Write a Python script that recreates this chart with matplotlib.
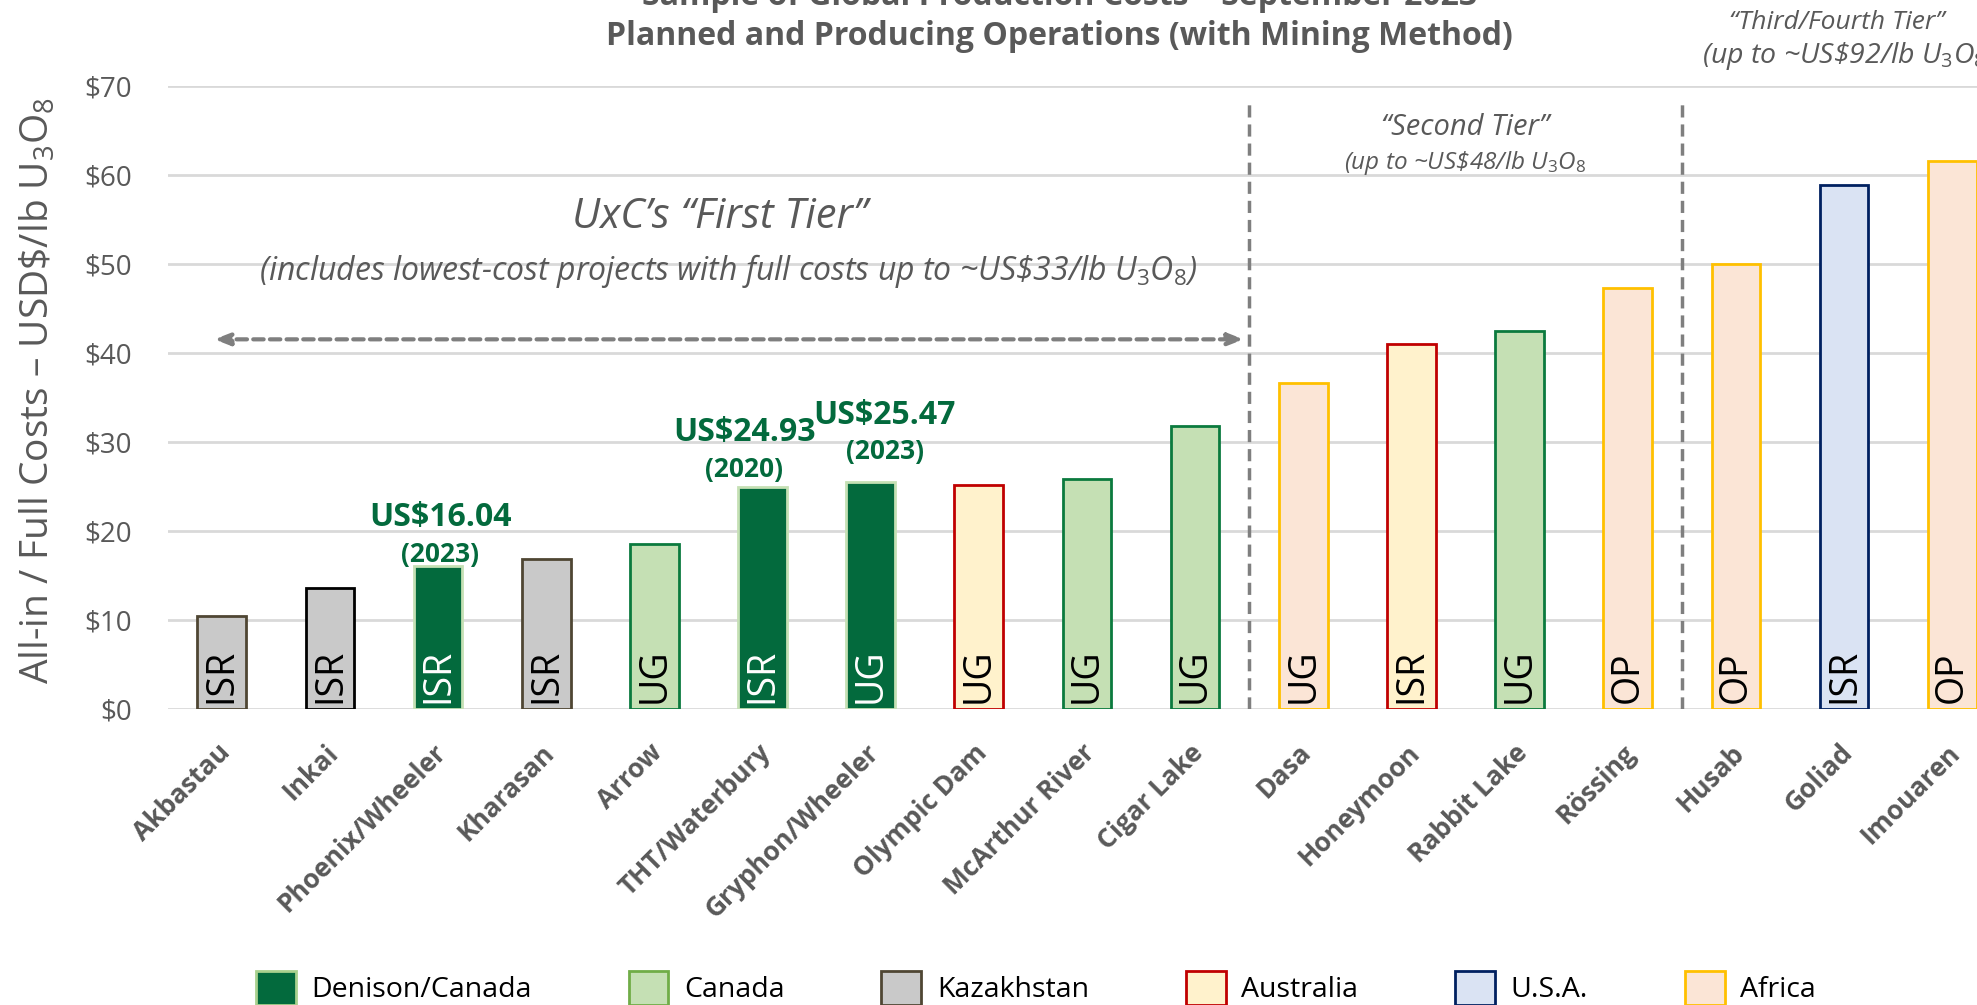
import matplotlib
matplotlib.use("Agg")
import matplotlib.pyplot as plt
from matplotlib.patches import Patch

plt.rcParams['font.family'] = ['Open Sans', 'DejaVu Sans']
plt.rcParams['mathtext.fontset'] = 'custom'
plt.rcParams['mathtext.rm'] = 'Open Sans'
plt.rcParams['mathtext.it'] = 'Open Sans:italic'
plt.rcParams['mathtext.bf'] = 'Open Sans:bold'

# data
projects = ['Akbastau', 'Inkai', 'Phoenix/Wheeler', 'Kharasan', 'Arrow', 'THT/Waterbury',
            'Gryphon/Wheeler', 'Olympic Dam', 'McArthur River', 'Cigar Lake', 'Dasa',
            'Honeymoon', 'Rabbit Lake', 'Rössing', 'Husab', 'Goliad', 'Imouaren']
costs = [10.4, 13.6, 16.04, 16.8, 18.5, 24.93, 25.47, 25.1, 25.8, 31.8,
         36.6, 41.0, 42.4, 47.3, 50.0, 58.9, 61.5]
region = ['Kazakhstan', 'Kazakhstan', 'Denison/Canada', 'Kazakhstan', 'Canada', 'Denison/Canada',
          'Denison/Canada', 'Australia', 'Canada', 'Canada', 'Africa',
          'Australia', 'Canada', 'Africa', 'Africa', 'U.S.A.', 'Africa']
method = ['ISR', 'ISR', 'ISR', 'ISR', 'UG', 'ISR', 'UG', 'UG', 'UG', 'UG',
          'UG', 'ISR', 'UG', 'OP', 'OP', 'ISR', 'OP']
yticks = [0, 10, 20, 30, 40, 50, 60, 70]

regions = ['Denison/Canada', 'Canada', 'Kazakhstan', 'Australia', 'U.S.A.', 'Africa']
fills = {'Denison/Canada': '#036A3D', 'Canada': '#C5E0B4', 'Kazakhstan': '#C9C9C9',
         'Australia': '#FFF2CC', 'U.S.A.': '#DAE3F3', 'Africa': '#FBE5D6'}
edges = {'Denison/Canada': '#C5E0B4', 'Canada': '#0B7A3E', 'Kazakhstan': '#4F4633',
         'Australia': '#C00000', 'U.S.A.': '#002060', 'Africa': '#FFC000'}
leg_edges = {'Denison/Canada': '#A9D18E', 'Canada': '#70AD47', 'Kazakhstan': '#4F4633',
             'Australia': '#C00000', 'U.S.A.': '#002060', 'Africa': '#FFC000'}

gray = '#595959'
green = '#036A3D'
dash = '#7F7F7F'
u3o8 = r'U$_\mathit{3}$O$_\mathit{8}$'

fig = plt.figure(figsize=(19.77, 10.05), dpi=100)
ax = fig.add_axes([0.0848, 0.2949, 0.930, 0.6198])

x = list(range(len(projects)))
bar_edges = [edges[r] for r in region]
bar_edges[1] = '#000000'  # Inkai has a black outline
bars = ax.bar(x, costs, width=0.45, color=[fills[r] for r in region],
              edgecolor=bar_edges, linewidth=2, zorder=3)

for i, m in enumerate(method):
    c = 'white' if region[i] == 'Denison/Canada' else 'black'
    ax.text(i, 0.6, m, rotation=90, ha='center', va='bottom', fontsize=27,
            color=c, zorder=4)

ax.set_xlim(-0.5, len(projects) - 0.5)
ax.set_ylim(0, 70)
ax.set_yticks(yticks)
ax.set_yticklabels(['$%d' % v for v in yticks], fontsize=20, color=gray)
ax.tick_params(axis='y', length=0, pad=26)
ax.set_xticks([])
ax.grid(axis='y', color='#D9D9D9', linewidth=2, zorder=0)
ax.set_axisbelow(True)
for s in ax.spines.values():
    s.set_visible(False)

for i, name in enumerate(projects):
    ax.text(i - 0.05, -3.4, name, rotation=45, ha='right', va='top',
            rotation_mode='anchor', fontsize=19, fontweight='bold', color=gray,
            clip_on=False)

ax.set_ylabel(r'All-in / Full Costs – USD\$/lb ' + r'U$_3$O$_8$', fontsize=28, color=gray)
ax.yaxis.set_label_coords(-0.06, 0.51)

# tier separators
for xv in [9.5, 13.5]:
    ax.plot([xv, xv], [0, 68.6], color=dash, linestyle=(0, (3.5, 2)), linewidth=2.5, zorder=2)

ax.annotate('', xy=(9.45, 41.5), xytext=(-0.07, 41.5),
            arrowprops=dict(arrowstyle='<|-|>,head_length=0.9,head_width=0.35',
                            linestyle=(0, (2.5, 1.5)), color=dash, lw=3, shrinkA=0, shrinkB=0))

ax.text(4.6, 55.3, 'UxC’s “First Tier”', style='italic', fontsize=30, color=gray,
        ha='center', va='center')
ax.text(4.68, 49.2, r'(includes lowest-cost projects with full costs up to ~US\$33/lb ' + u3o8 + ')',
        style='italic', fontsize=23, color=gray, ha='center', va='center')
ax.text(11.5, 65.3, '“Second Tier”', style='italic', fontsize=21, color=gray,
        ha='center', va='center')
ax.text(11.5, 61.3, r'(up to ~US\$48/lb ' + u3o8,
        style='italic', fontsize=17.5, color=gray, ha='center', va='center')
ax.text(14.93, 77.1, '“Third/Fourth Tier”', style='italic', fontsize=19, color=gray,
        ha='center', va='center', clip_on=False)
ax.text(13.69, 73.3, r'(up to ~US\$92/lb ' + u3o8,
        style='italic', fontsize=20.5, color=gray, ha='left', va='center', clip_on=False)

# Denison cost callouts
callouts = [(2.02, 21.5, 'US$16.04', 23), (2.02, 17.3, '(2023)', 19),
            (4.83, 31.0, 'US$24.93', 23), (4.83, 26.9, '(2020)', 19),
            (6.13, 32.9, 'US$25.47', 23), (6.13, 28.9, '(2023)', 19)]
for cx, cy, t, fs in callouts:
    ax.text(cx, cy, t, ha='center', va='center', fontsize=fs, fontweight='bold',
            color=green, zorder=5)

fig.text(0.536, 1.003, 'Sample of Global Production Costs – September 2023',
         ha='center', va='center', fontsize=23, fontweight='bold', color=gray)
fig.text(0.536, 0.9636, 'Planned and Producing Operations (with Mining Method)',
         ha='center', va='center', fontsize=23, fontweight='bold', color=gray)

handles = [Patch(facecolor=fills[r], edgecolor=leg_edges[r], linewidth=2) for r in regions]
fig.legend(handles, regions, loc='center', bbox_to_anchor=(0.524, 0.017), ncol=6,
           frameon=False, fontsize=20.5, handlelength=1.4, handleheight=1.5,
           handletextpad=0.55, columnspacing=3.4, labelcolor='black')

fig.savefig('out.png', dpi=100)
